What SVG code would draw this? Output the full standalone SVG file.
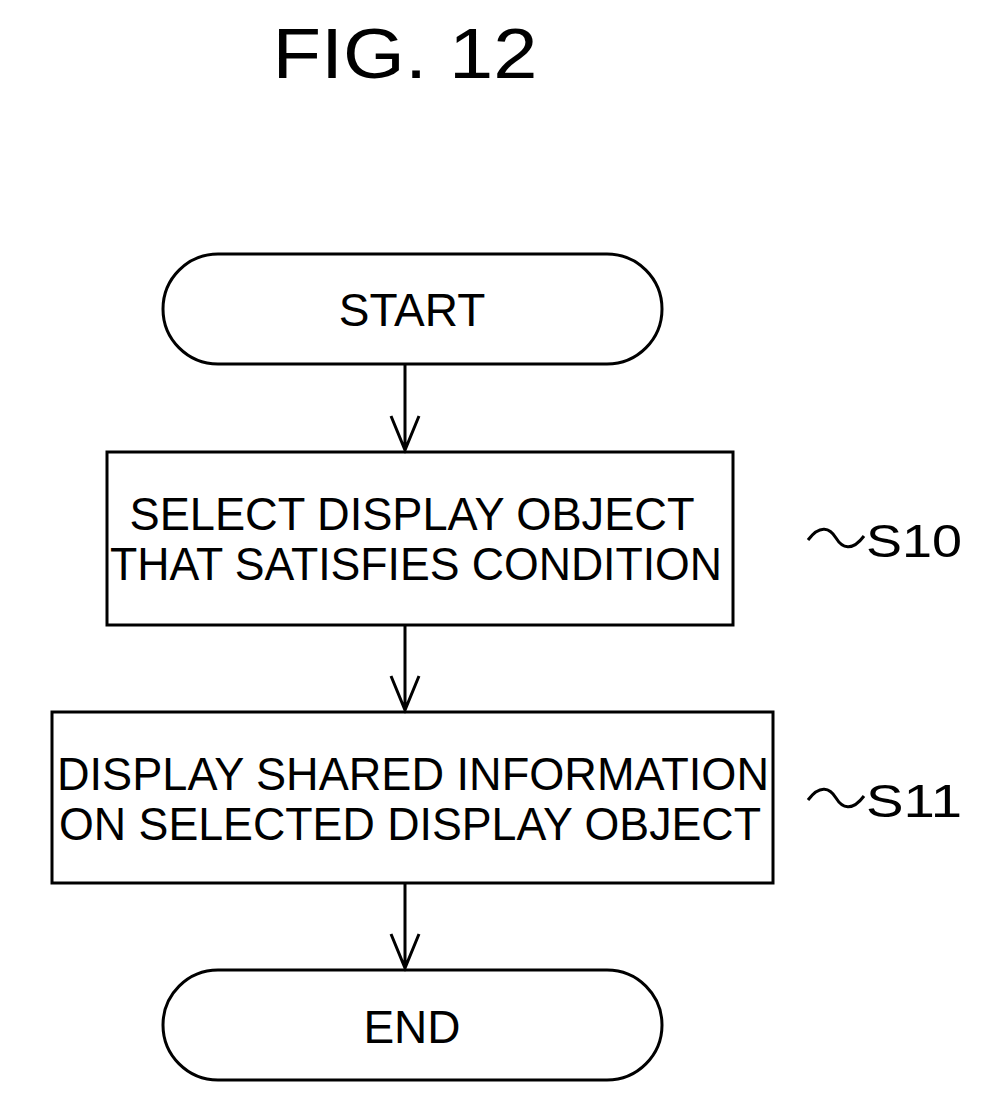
<svg xmlns="http://www.w3.org/2000/svg" width="984" height="1108" viewBox="0 0 984 1108">
<style>
.s{fill:#fff;stroke:#000;stroke-width:3}
.t{font-family:"Liberation Sans",Arial,sans-serif;font-size:46px;fill:#000;text-anchor:middle}
.c{fill:none;stroke:#000;stroke-width:3}
</style>
<rect width="984" height="1108" fill="#fff"/>
<text x="405" y="78" class="t" style="font-size:70px" textLength="265" lengthAdjust="spacingAndGlyphs">FIG. 12</text>
<g id="start"><rect class="s" x="163" y="254" width="499" height="110" rx="55"/><text class="t" x="412" y="326">START</text></g>
<g id="s10"><rect class="s" x="107" y="452" width="626" height="173"/>
<text class="t" x="412" y="530" textLength="565" lengthAdjust="spacingAndGlyphs">SELECT DISPLAY OBJECT</text>
<text class="t" x="416" y="580" textLength="612" lengthAdjust="spacingAndGlyphs">THAT SATISFIES CONDITION</text>
<text class="t" x="914" y="557" textLength="96" lengthAdjust="spacingAndGlyphs">S10</text></g>
<g id="s11"><rect class="s" x="52" y="712" width="721" height="171"/>
<text class="t" x="413" y="790" textLength="712" lengthAdjust="spacingAndGlyphs">DISPLAY SHARED INFORMATION</text>
<text class="t" x="410" y="840" textLength="702" lengthAdjust="spacingAndGlyphs">ON SELECTED DISPLAY OBJECT</text>
<text class="t" x="914" y="817" textLength="96" lengthAdjust="spacingAndGlyphs">S11</text></g>
<g id="end"><rect class="s" x="163" y="970" width="499" height="110" rx="55"/><text class="t" x="412" y="1043">END</text></g>
<g id="connectors">
<path class="c" d="M405 364V450M391 416L405 450L419 416"/>
<path class="c" d="M405 625V710M391 676L405 710L419 676"/>
<path class="c" d="M405 883V968M391 934L405 968L419 934"/>
<path class="c" d="M808 540c12 -16 22 -12 28 -2s16 14 28 -2"/>
<path class="c" d="M808 800c12 -16 22 -12 28 -2s16 14 28 -2"/>
</g>
</svg>
